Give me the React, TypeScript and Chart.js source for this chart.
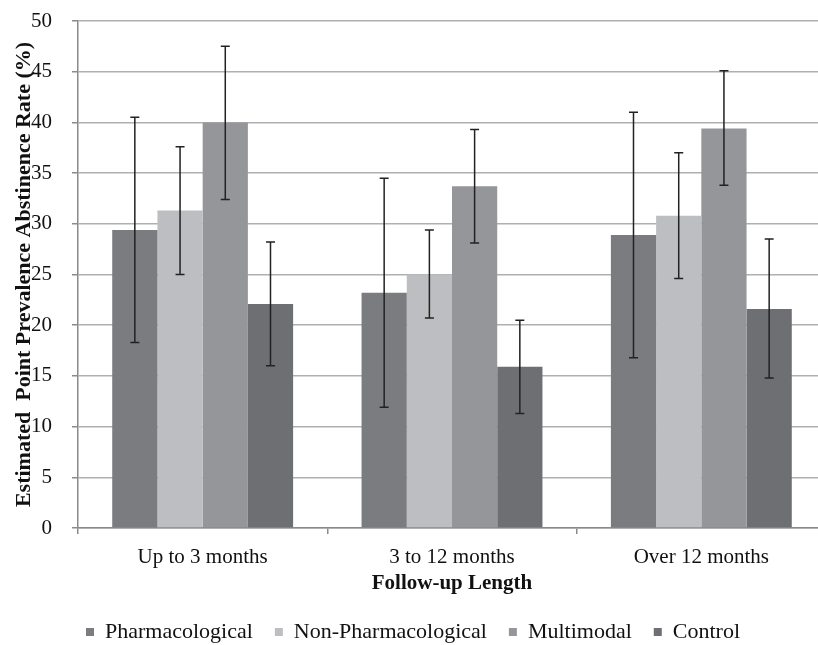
import React, { useEffect, useRef } from "react";
import { Chart, registerables } from "chart.js";

Chart.register(...registerables);

const categories = ["Up to 3 months", "3 to 12 months", "Over 12 months"];
const seriesNames = ["Pharmacological", "Non-Pharmacological", "Multimodal", "Control"];
const seriesColors = ["#7b7c80", "#bdbec1", "#95969a", "#6e6f73"];

const pharmacological = [29.4, 23.2, 28.9];
const pharmacologicalLow = [18.3, 11.9, 16.8];
const pharmacologicalHigh = [40.5, 34.5, 41.0];

const nonPharmacological = [31.3, 25.0, 30.8];
const nonPharmacologicalLow = [25.0, 20.7, 24.6];
const nonPharmacologicalHigh = [37.6, 29.4, 37.0];

const multimodal = [40.0, 33.7, 39.4];
const multimodalLow = [32.4, 28.1, 33.8];
const multimodalHigh = [47.5, 39.3, 45.1];

const control = [22.1, 15.9, 21.6];
const controlLow = [16.0, 11.3, 14.8];
const controlHigh = [28.2, 20.5, 28.5];

const yTicks = [0, 5, 10, 15, 20, 25, 30, 35, 40, 45, 50];

const values = [pharmacological, nonPharmacological, multimodal, control];
const lows = [pharmacologicalLow, nonPharmacologicalLow, multimodalLow, controlLow];
const highs = [pharmacologicalHigh, nonPharmacologicalHigh, multimodalHigh, controlHigh];

const FONT = "'Liberation Serif', 'Times New Roman', serif";

const errorBarPlugin = {
  id: "errorBars",
  afterDatasetsDraw(chart: any) {
    const ctx = chart.ctx;
    const yScale = chart.scales.y;
    ctx.save();
    ctx.strokeStyle = "#222222";
    ctx.lineWidth = 1.5;
    chart.data.datasets.forEach((ds: any, i: number) => {
      const meta = chart.getDatasetMeta(i);
      meta.data.forEach((el: any, j: number) => {
        const x = el.x;
        const yHi = yScale.getPixelForValue(highs[i][j]);
        const yLo = yScale.getPixelForValue(lows[i][j]);
        const cap = 4.5;
        ctx.beginPath();
        ctx.moveTo(x, yHi);
        ctx.lineTo(x, yLo);
        ctx.moveTo(x - cap, yHi);
        ctx.lineTo(x + cap, yHi);
        ctx.moveTo(x - cap, yLo);
        ctx.lineTo(x + cap, yLo);
        ctx.stroke();
      });
    });
    ctx.restore();
  },
};

export default function App() {
  const canvasRef = useRef<HTMLCanvasElement | null>(null);

  useEffect(() => {
    if (!canvasRef.current) return;
    const chart = new Chart(canvasRef.current, {
      type: "bar",
      data: {
        labels: categories,
        datasets: seriesNames.map((name, i) => ({
          label: name,
          data: values[i],
          backgroundColor: seriesColors[i],
          borderWidth: 0,
          categoryPercentage: 0.7255,
          barPercentage: 1.0,
        })),
      },
      options: {
        responsive: false,
        animation: false,
        devicePixelRatio: 1,
        layout: { padding: { top: 21, right: 14, left: 0, bottom: 0 } },
        plugins: {
          tooltip: { enabled: false },
          legend: {
            position: "bottom",
            labels: {
              boxWidth: 8,
              boxHeight: 8,
              padding: 22,
              color: "#111111",
              font: { family: FONT, size: 22 },
            },
          },
        },
        scales: {
          x: {
            offset: true,
            grid: {
              offset: true,
              drawOnChartArea: false,
              drawTicks: true,
              tickLength: 6,
              color: "#8a8a8a",
              lineWidth: 1.5,
            },
            border: { display: true, color: "#8a8a8a", width: 1.5 },
            ticks: {
              padding: 11,
              color: "#111111",
              font: { family: FONT, size: 21 },
              maxRotation: 0,
            },
            title: {
              display: true,
              text: "Follow-up Length",
              color: "#111111",
              font: { family: FONT, size: 21, weight: "bold" },
              padding: { top: 0, bottom: 3 },
            },
            afterFit(scale: any) {
              scale.height = 71;
            },
          },
          y: {
            min: 0,
            max: 50,
            afterBuildTicks(scale: any) {
              scale.ticks = yTicks.map((v) => ({ value: v }));
            },
            grid: {
              color: "#b0b0b0",
              lineWidth: 1.5,
              drawTicks: true,
              tickLength: 6,
              tickColor: "#8a8a8a",
            },
            border: { display: true, color: "#8a8a8a", width: 1.5 },
            ticks: {
              padding: 20,
              color: "#111111",
              font: { family: FONT, size: 21 },
            },
            title: {
              display: true,
              text: "Estimated  Point Prevalence Abstinence Rate (%)",
              color: "#111111",
              font: { family: FONT, size: 22, weight: "bold" },
              padding: { top: 11, bottom: 0 },
            },
            afterFit(scale: any) {
              scale.width = 78;
              scale.paddingTop = 0;
              scale.paddingBottom = 0;
            },
          },
        },
      },
      plugins: [errorBarPlugin],
    });
    return () => chart.destroy();
  }, []);

  return (
    <div
      style={{
        position: "fixed",
        left: 0,
        top: 0,
        width: 818,
        height: 645,
        overflow: "hidden",
        background: "#ffffff",
      }}
    >
      <canvas
        ref={canvasRef}
        width={840}
        height={653}
        style={{ display: "block", width: 840, height: 653 }}
      />
    </div>
  );
}
